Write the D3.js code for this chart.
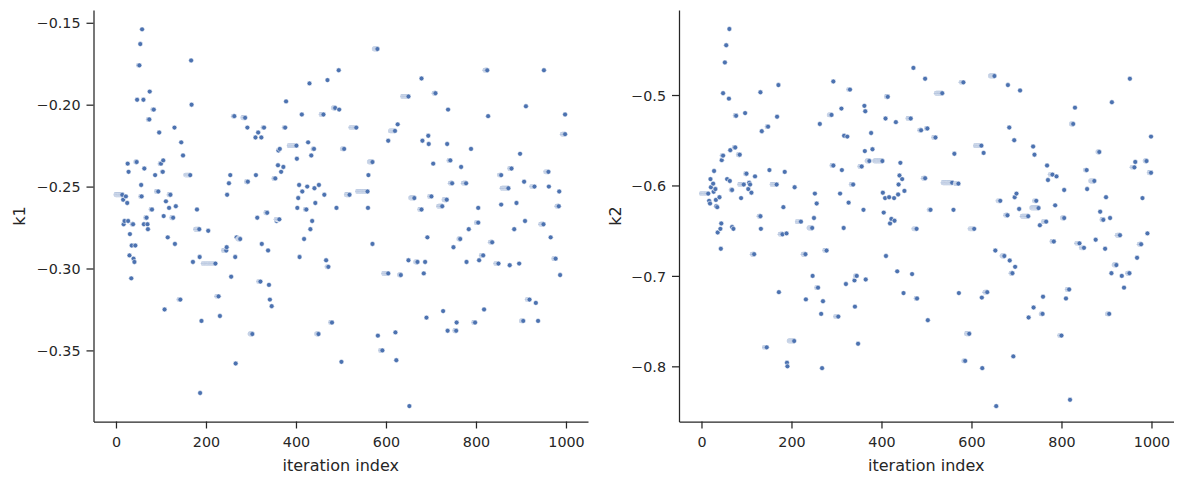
<!DOCTYPE html>
<html>
<head>
<meta charset="utf-8">
<script src="https://cdn.jsdelivr.net/npm/d3@7"></script>
<style>
  html, body { margin: 0; padding: 0; background: #ffffff; }
  svg { display: block; }
  text { font-family: "DejaVu Sans", sans-serif; fill: #262626; }
</style>
</head>
<body>
<svg id="chart" width="1183" height="484"></svg>
<script>
// Tick labels
const xTicks = [0, 200, 400, 600, 800, 1000];
const k1Ticks = [-0.35, -0.30, -0.25, -0.20, -0.15];
const k2Ticks = [-0.8, -0.7, -0.6, -0.5];
const xLabel = "iteration index";
const k1Label = "k1";
const k2Label = "k2";
// Axis limits
const xLimits = [-49.95, 1048.95];
const k1Limits = [-0.3934, -0.1422];
const k2Limits = [-0.861, -0.406];

// Chain values as runs: [first iteration, last iteration, value]
const k1Runs = [
[0,14,-0.255],[16,16,-0.258],[17,17,-0.273],[19,19,-0.271],[22,22,-0.256],[25,25,-0.260],[26,26,-0.236],
[27,27,-0.271],[28,28,-0.241],[30,30,-0.292],[31,31,-0.279],[34,34,-0.306],[35,35,-0.286],[36,38,-0.273],
[39,39,-0.294],[41,41,-0.296],[43,43,-0.286],[44,46,-0.235],[47,47,-0.197],[50,52,-0.176],[54,54,-0.163],
[55,57,-0.256],[56,56,-0.249],[58,58,-0.154],[61,61,-0.197],[62,62,-0.273],[63,63,-0.239],[66,68,-0.269],
[70,70,-0.273],[71,71,-0.276],[72,74,-0.209],[75,75,-0.192],[78,80,-0.264],[82,84,-0.203],[87,87,-0.243],
[90,94,-0.253],[96,96,-0.217],[98,100,-0.236],[103,104,-0.241],[105,105,-0.234],[106,106,-0.268],[108,108,-0.325],
[111,111,-0.259],[115,115,-0.281],[118,118,-0.263],[118,121,-0.255],[124,127,-0.269],[130,130,-0.214],[131,131,-0.285],
[133,133,-0.262],[140,143,-0.319],[145,145,-0.223],[149,149,-0.231],[155,165,-0.243],[167,167,-0.173],[168,168,-0.200],
[171,171,-0.296],[177,185,-0.276],[180,180,-0.264],[186,186,-0.293],[187,187,-0.376],[190,190,-0.332],[194,221,-0.297],
[205,205,-0.277],[224,228,-0.317],[231,231,-0.329],[239,245,-0.289],[246,246,-0.287],[247,247,-0.255],[251,251,-0.248],
[254,254,-0.243],[256,256,-0.305],[261,263,-0.207],[265,265,-0.293],[266,266,-0.358],[268,268,-0.281],[271,276,-0.282],
[282,287,-0.208],[290,293,-0.247],[292,292,-0.214],[298,303,-0.340],[310,310,-0.220],[311,311,-0.243],[314,314,-0.269],
[316,316,-0.217],[317,321,-0.308],[323,323,-0.220],[324,324,-0.285],[327,329,-0.214],[333,336,-0.266],[338,338,-0.289],
[340,340,-0.310],[342,342,-0.319],[346,346,-0.323],[351,354,-0.245],[356,363,-0.270],[357,357,-0.271],[360,360,-0.237],
[361,361,-0.228],[364,364,-0.227],[367,367,-0.241],[372,372,-0.238],[374,376,-0.214],[378,378,-0.198],[385,401,-0.225],
[402,402,-0.233],[403,403,-0.263],[405,405,-0.257],[407,407,-0.249],[408,408,-0.293],[413,413,-0.206],[414,414,-0.253],
[418,418,-0.282],[421,423,-0.264],[425,425,-0.250],[427,427,-0.223],[430,430,-0.187],[432,432,-0.276],[434,434,-0.231],
[436,436,-0.271],[438,440,-0.227],[441,441,-0.251],[443,443,-0.260],[446,450,-0.340],[451,451,-0.249],[456,461,-0.206],
[463,463,-0.255],[467,467,-0.295],[469,472,-0.299],[470,470,-0.185],[477,480,-0.333],[483,487,-0.202],[490,490,-0.263],
[495,495,-0.179],[496,496,-0.203],[501,501,-0.357],[503,507,-0.227],[512,519,-0.255],[522,534,-0.214],[537,559,-0.253],
[560,560,-0.263],[561,561,-0.243],[563,570,-0.235],[570,570,-0.285],[574,581,-0.166],[582,582,-0.341],[588,592,-0.350],
[595,605,-0.303],[605,605,-0.222],[610,620,-0.216],[621,621,-0.339],[623,623,-0.356],[626,626,-0.212],[630,633,-0.304],
[637,650,-0.195],[650,650,-0.295],[652,652,-0.384],[655,663,-0.257],[666,670,-0.296],[675,679,-0.264],[679,679,-0.184],
[681,681,-0.222],[684,684,-0.303],[687,687,-0.296],[690,690,-0.330],[692,692,-0.281],[694,694,-0.219],[695,695,-0.224],
[697,701,-0.256],[705,705,-0.236],[707,710,-0.193],[717,725,-0.262],[727,727,-0.326],[729,735,-0.258],[736,736,-0.224],
[737,737,-0.338],[738,738,-0.203],[740,743,-0.234],[743,747,-0.248],[750,750,-0.287],[753,756,-0.338],[757,757,-0.333],
[762,765,-0.282],[767,767,-0.238],[772,778,-0.248],[779,779,-0.296],[784,784,-0.276],[789,789,-0.227],[795,798,-0.333],
[801,805,-0.272],[805,805,-0.263],[807,807,-0.295],[812,816,-0.292],[818,818,-0.325],[820,825,-0.179],[827,827,-0.207],
[832,836,-0.284],[844,850,-0.297],[852,856,-0.243],[856,856,-0.261],[858,872,-0.251],[875,879,-0.239],[875,875,-0.298],
[885,885,-0.276],[890,890,-0.260],[896,896,-0.297],[898,898,-0.230],[901,905,-0.332],[907,907,-0.247],[909,909,-0.271],
[911,911,-0.201],[914,919,-0.319],[924,930,-0.250],[933,933,-0.321],[938,938,-0.332],[944,950,-0.273],[951,951,-0.179],
[955,961,-0.241],[962,962,-0.250],[966,966,-0.281],[973,977,-0.294],[980,984,-0.262],[985,985,-0.253],[987,987,-0.304],
[992,998,-0.218],[998,998,-0.206]
];

const k2Runs = [
[0,15,-0.609],[17,17,-0.617],[19,19,-0.620],[20,20,-0.593],[21,21,-0.602],[26,26,-0.598],[27,27,-0.607],[28,28,-0.584],
[31,31,-0.604],[32,32,-0.616],[33,33,-0.623],[35,35,-0.624],[36,36,-0.652],[40,40,-0.613],[42,42,-0.648],[43,43,-0.670],
[44,44,-0.642],[45,45,-0.572],[46,48,-0.567],[48,48,-0.498],[52,52,-0.464],[55,55,-0.445],[57,57,-0.593],[61,61,-0.504],
[62,62,-0.427],[63,63,-0.595],[64,64,-0.561],[66,68,-0.605],[68,68,-0.646],[71,71,-0.648],[73,75,-0.558],[75,77,-0.523],
[82,85,-0.566],[85,94,-0.599],[88,88,-0.614],[97,97,-0.520],[98,100,-0.587],[104,104,-0.604],[106,106,-0.597],[108,108,-0.599],
[111,111,-0.608],[113,117,-0.676],[119,119,-0.590],[128,131,-0.634],[131,131,-0.497],[132,132,-0.648],[134,134,-0.540],
[140,145,-0.779],[146,148,-0.535],[151,151,-0.583],[157,167,-0.599],[168,168,-0.524],[171,171,-0.489],[172,172,-0.718],
[175,180,-0.654],[182,182,-0.624],[185,185,-0.585],[189,189,-0.653],[190,190,-0.796],[191,191,-0.800],[195,206,-0.772],
[207,207,-0.602],[213,221,-0.640],[226,231,-0.676],[232,232,-0.726],[239,246,-0.647],[247,247,-0.700],[250,250,-0.636],
[252,252,-0.609],[256,256,-0.620],[256,259,-0.713],[263,263,-0.532],[266,266,-0.742],[268,268,-0.802],[270,270,-0.728],
[274,278,-0.672],[284,289,-0.522],[290,293,-0.578],[293,293,-0.485],[298,304,-0.745],[308,308,-0.609],[311,311,-0.515],
[312,312,-0.583],[316,316,-0.647],[317,317,-0.545],[321,321,-0.709],[324,324,-0.546],[327,327,-0.619],[327,330,-0.494],
[333,337,-0.599],[340,340,-0.705],[341,341,-0.734],[342,345,-0.700],[348,348,-0.775],[352,356,-0.579],[360,360,-0.627],
[362,362,-0.512],[363,363,-0.562],[364,364,-0.518],[365,365,-0.704],[368,373,-0.573],[377,377,-0.542],[380,380,-0.560],
[385,402,-0.573],[403,403,-0.608],[405,405,-0.630],[408,408,-0.614],[409,409,-0.526],[410,410,-0.678],[411,414,-0.502],
[417,417,-0.613],[419,419,-0.642],[422,422,-0.637],[428,428,-0.614],[429,429,-0.639],[432,432,-0.530],[435,435,-0.695],
[437,437,-0.610],[438,438,-0.599],[440,440,-0.589],[442,442,-0.575],[446,446,-0.593],[449,449,-0.719],[451,451,-0.606],
[459,465,-0.526],[468,468,-0.698],[471,471,-0.470],[472,478,-0.648],[477,479,-0.725],[485,488,-0.539],[493,497,-0.592],
[497,497,-0.482],[500,502,-0.537],[503,503,-0.749],[506,509,-0.627],[516,520,-0.547],[522,535,-0.498],[537,557,-0.597],
[560,560,-0.627],[562,562,-0.565],[565,571,-0.598],[572,572,-0.719],[577,582,-0.486],[583,586,-0.794],[589,595,-0.764],
[597,606,-0.648],[609,622,-0.556],[623,623,-0.724],[624,624,-0.802],[627,627,-0.564],[630,635,-0.718],[642,651,-0.479],
[653,653,-0.672],[655,655,-0.844],[659,664,-0.617],[668,673,-0.678],[676,680,-0.633],[681,681,-0.489],[684,684,-0.536],
[685,685,-0.683],[688,691,-0.697],[693,693,-0.789],[695,695,-0.550],[696,696,-0.613],[697,697,-0.690],[700,700,-0.609],
[706,706,-0.626],[708,708,-0.495],[713,726,-0.634],[727,727,-0.746],[734,749,-0.625],[737,737,-0.557],[738,738,-0.735],
[740,740,-0.566],[740,744,-0.617],[752,752,-0.644],[755,758,-0.742],[759,759,-0.723],[760,766,-0.640],[768,768,-0.578],
[770,770,-0.594],[775,780,-0.588],[779,783,-0.662],[786,786,-0.622],[789,789,-0.590],[796,800,-0.766],[802,806,-0.636],
[806,806,-0.605],[810,810,-0.725],[813,817,-0.715],[819,819,-0.837],[822,826,-0.532],[830,830,-0.514],[834,840,-0.664],
[844,850,-0.669],[853,856,-0.583],[857,857,-0.604],[865,873,-0.595],[876,876,-0.660],[881,884,-0.563],[886,886,-0.629],
[890,893,-0.638],[897,897,-0.670],[899,899,-0.613],[902,906,-0.742],[908,908,-0.636],[911,911,-0.697],[912,912,-0.508],
[917,922,-0.688],[924,930,-0.655],[934,934,-0.700],[939,939,-0.713],[947,951,-0.697],[952,952,-0.482],[957,962,-0.580],
[964,964,-0.574],[968,968,-0.680],[973,977,-0.665],[980,980,-0.614],[986,989,-0.573],[991,991,-0.653],[995,999,-0.586],
[999,999,-0.546]
];

const ink = "#262626";
const pointColor = "#4c72b0";
const svg = d3.select("#chart");

function expand(runs) {
  const pts = [];
  runs.forEach(([s, e, v]) => {
    for (let i = s; i <= e; i++) pts.push({ i, v });
  });
  pts.sort((a, b) => a.i - b.i);
  return pts;
}

function panel(opts) {
  const { left, right, top, bottom, runs, yLimits, yTicks, yFormat, yLabel, yLabelX } = opts;
  const x = d3.scaleLinear().domain(xLimits).range([left, right]);
  const y = d3.scaleLinear().domain(yLimits).range([bottom, top]);
  const g = svg.append("g");

  // points
  const pts = expand(runs);
  g.append("g").selectAll("circle").data(pts).join("circle")
    .attr("cx", d => x(d.i))
    .attr("cy", d => y(d.v))
    .attr("r", 2.45)
    .attr("fill", pointColor)
    .attr("stroke", "#ffffff")
    .attr("stroke-width", 0.55);

  // x axis
  const xa = g.append("g").attr("transform", `translate(0,${bottom})`)
    .call(d3.axisBottom(x).tickValues(xTicks).tickFormat(d3.format("d")).tickSize(7).tickSizeOuter(0).tickPadding(8));
  // y axis
  const ya = g.append("g").attr("transform", `translate(${left},0)`)
    .call(d3.axisLeft(y).tickValues(yTicks).tickFormat(d3.format(yFormat)).tickSize(7).tickSizeOuter(0).tickPadding(6));
  [xa, ya].forEach(a => {
    a.select(".domain").attr("stroke", ink).attr("stroke-width", 1.25);
    a.selectAll(".tick line").attr("stroke", ink).attr("stroke-width", 1.25);
    a.selectAll(".tick text").attr("fill", ink).style("font-family", "DejaVu Sans").style("font-size", "14.3px");
  });
  ya.selectAll(".tick text").attr("dy", "0.36em");

  g.append("text").attr("x", (left + right) / 2).attr("y", 470.5)
    .attr("text-anchor", "middle").style("font-size", "16px").text(xLabel);
  g.append("text").attr("transform", `translate(${yLabelX},216) rotate(-90)`)
    .attr("text-anchor", "middle").style("font-size", "16px").text(yLabel);
}

panel({ left: 93.5, right: 588, top: 10, bottom: 421.5, runs: k1Runs, yLimits: k1Limits,
        yTicks: k1Ticks, yFormat: ".2f", yLabel: k1Label, yLabelX: 25 });
panel({ left: 679, right: 1173.5, top: 10, bottom: 421.5, runs: k2Runs, yLimits: k2Limits,
        yTicks: k2Ticks, yFormat: ".1f", yLabel: k2Label, yLabelX: 620.5 });
</script>
</body>
</html>
